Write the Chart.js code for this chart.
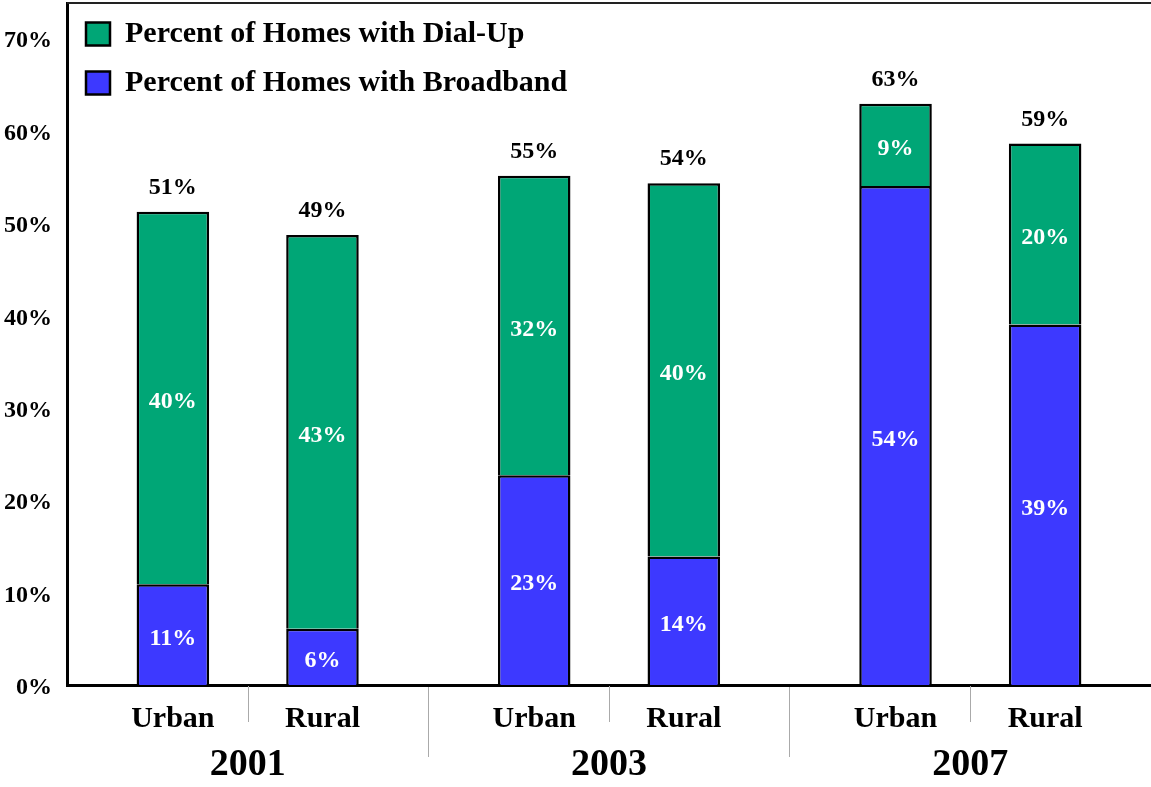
<!DOCTYPE html>
<html><head><meta charset="utf-8">
<script src="https://cdn.jsdelivr.net/npm/chart.js@4.4.1/dist/chart.umd.min.js"></script>
<style>html,body{margin:0;padding:0;background:#fff;overflow:hidden}#wrap{width:1151px;height:787px;position:relative}</style>
</head><body><div id="wrap"><canvas id="c"></canvas></div>
<script>
// ---- data ----
const years = ['2001', '2003', '2007'];
const areaTypes = ['Urban', 'Rural'];
const urbanBroadband = [10.9, 22.7, 54.0];
const urbanDialUp = [40.3, 32.4, 8.9];
const ruralBroadband = [6.1, 13.9, 39.0];
const ruralDialUp = [42.6, 40.4, 19.6];
const yTickValues = [0, 10, 20, 30, 40, 50, 60, 70];
const seriesNames = ['Percent of Homes with Broadband', 'Percent of Homes with Dial-Up'];

const GREEN = '#00A676', BLUE = '#3D39FF';
const FONT = "'Liberation Serif', 'Times New Roman', serif";

function makeSet(label, data, color, stack, kind) {
  return { label, data, stack, kind, areaType: stack,
    backgroundColor: color, borderColor: '#000', borderWidth: 2.5,
    categoryPercentage: 0.828, barPercentage: 0.485 };
}
const datasets = [
  makeSet(seriesNames[0], urbanBroadband, BLUE, areaTypes[0], 'broad'),
  makeSet(seriesNames[1], urbanDialUp, GREEN, areaTypes[0], 'dial'),
  makeSet(seriesNames[0], ruralBroadband, BLUE, areaTypes[1], 'broad'),
  makeSet(seriesNames[1], ruralDialUp, GREEN, areaTypes[1], 'dial')
];

const valueLabels = {
  id: 'valueLabels',
  afterDatasetsDraw(chart) {
    const ctx = chart.ctx; ctx.save();
    ctx.font = `bold 24px ${FONT}`; ctx.textAlign = 'center'; ctx.textBaseline = 'middle';
    chart.data.datasets.forEach((ds, di) => {
      const meta = chart.getDatasetMeta(di);
      meta.data.forEach((el, i) => {
        const v = ds.data[i];
        ctx.fillStyle = '#fff';
        ctx.fillText(Math.round(v) + '%', el.x, (el.y + el.base) / 2 + 4);
        if (ds.kind === 'dial') {
          const total = chart.data.datasets.filter(d => d.stack === ds.stack)
            .reduce((s, d) => s + d.data[i], 0);
          ctx.fillStyle = '#000';
          ctx.fillText(Math.round(total) + '%', el.x, el.y - 24);
        }
      });
    });
    ctx.restore();
  }
};

const axisDecor = {
  id: 'axisDecor',
  afterDraw(chart) {
    const ctx = chart.ctx, area = chart.chartArea, xs = chart.scales.x;
    ctx.save();
    // top frame
    ctx.strokeStyle = '#222'; ctx.lineWidth = 2;
    ctx.beginPath(); ctx.moveTo(area.left, area.top); ctx.lineTo(area.right, area.top); ctx.stroke();
    // short separators between Urban and Rural
    ctx.strokeStyle = '#aaa'; ctx.lineWidth = 1;
    years.forEach((y, i) => {
      const px = Math.round(xs.getPixelForValue(i)) + 0.5;
      ctx.beginPath(); ctx.moveTo(px, area.bottom + 1); ctx.lineTo(px, area.bottom + 37); ctx.stroke();
    });
    // Urban / Rural labels
    ctx.fillStyle = '#000'; ctx.font = `bold 30px ${FONT}`;
    ctx.textAlign = 'center'; ctx.textBaseline = 'alphabetic';
    chart.data.datasets.forEach((ds, di) => {
      if (ds.kind !== 'broad') return;
      chart.getDatasetMeta(di).data.forEach(el => {
        ctx.fillText(ds.areaType, el.x, area.bottom + 42);
      });
    });
    ctx.restore();
  }
};

new Chart(document.getElementById('c'), {
  type: 'bar',
  data: { labels: years, datasets },
  plugins: [valueLabels, axisDecor],
  options: {
    responsive: true, maintainAspectRatio: false, animation: false,
    devicePixelRatio: 1,
    layout: { padding: { top: 3, left: 0, right: 0, bottom: 0 } },
    plugins: {
      tooltip: { enabled: false },
      legend: {
        position: 'chartArea', align: 'start',
        labels: {
          font: { family: FONT, size: 30, weight: 'bold' }, color: '#000',
          boxWidth: 24, boxHeight: 23, padding: 19,
          filter: (item) => item.datasetIndex <= 1,
          sort: (a, b) => b.datasetIndex - a.datasetIndex
        }
      }
    },
    scales: {
      x: {
        stacked: true,
        afterFit(scale) { scale.height = 102; scale.paddingLeft = 0; scale.paddingRight = 0; },
        grid: {
          display: true, drawOnChartArea: false, drawTicks: true, tickLength: 72, offset: true,
          color: (c) => (c.index === 1 || c.index === 2) ? '#aaa' : 'rgba(0,0,0,0)', lineWidth: 1
        },
        border: { display: true, color: '#000', width: 3 },
        ticks: { font: { family: FONT, size: 38, weight: 'bold' }, color: '#000', padding: -15,
                 maxRotation: 0, autoSkip: false }
      },
      y: {
        stacked: true, min: 0, max: 73.8,
        afterFit(scale) { scale.width = 67; scale.paddingTop = 0; scale.paddingBottom = 0; },
        afterBuildTicks(scale) { scale.ticks = yTickValues.map(v => ({ value: v })); },
        grid: { display: false, drawTicks: false },
        border: { display: true, color: '#000', width: 3 },
        ticks: { font: { family: FONT, size: 24, weight: 'bold' }, color: '#000', padding: 15,
                 labelOffset: 3, callback: (v) => v + '%' }
      }
    }
  }
});
</script>
</body></html>
